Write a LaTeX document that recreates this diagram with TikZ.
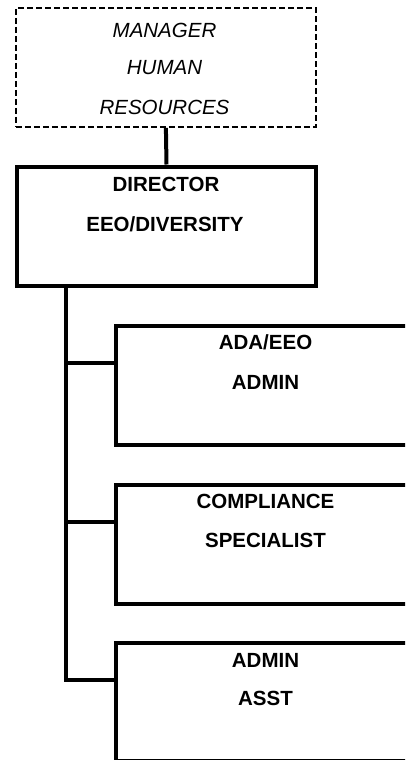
\documentclass[tikz,border=0pt]{standalone}
\usepackage{fontspec}
\setmainfont{Liberation Sans}
\usetikzlibrary{calc}
\begin{document}
\begin{tikzpicture}[x=1pt,y=-1pt,
  solidbox/.style={draw,line width=4pt,rectangle,inner sep=0pt,anchor=north west},
  dashbox/.style={draw,line width=1.8pt,rectangle,inner sep=0pt,anchor=north west,dash pattern=on 6pt off 3pt},
  conn/.style={line width=4pt},
  title/.style={font=\fontsize{20.5}{24}\selectfont\bfseries,inner sep=0pt,anchor=center},
  ititle/.style={font=\fontsize{20.5}{24}\selectfont\itshape,inner sep=0pt,anchor=center}]
\useasboundingbox (0,0) rectangle (405,760);
\clip (0,0) rectangle (405,760);

% top: dashed manager box
\node[dashbox,minimum width=300pt,minimum height=119pt] (mgr) at (15,7) {};
\node[ititle] (mgrA) at (164.5,30) {MANAGER};
\node[ititle] (mgrB) at (164.5,68) {HUMAN};
\node[ititle] (mgrC) at (164.5,107) {RESOURCES};

% director
\node[solidbox,minimum width=299pt,minimum height=119.5pt] (dir) at (15,164.5) {};
\node[title] (dirA) at (166,184) {DIRECTOR};
\node[title] (dirB) at (165,224) {EEO/DIVERSITY};

% reports (boxes run past the right edge)
\node[solidbox,minimum width=303pt,minimum height=119pt] (ada) at (114,324) {};
\node[title] (adaA) at (265.5,342) {ADA/EEO};
\node[title] (adaB) at (265.5,382) {ADMIN};

\node[solidbox,minimum width=303pt,minimum height=118.5pt] (comp) at (114,483) {};
\node[title] (compA) at (265.5,501) {COMPLIANCE};
\node[title] (compB) at (265.5,540) {SPECIALIST};

\node[solidbox,minimum width=303pt,minimum height=117.5pt] (asst) at (114,641) {};
\node[title] (asstA) at (265.5,660) {ADMIN};
\node[title] (asstB) at (265.5,698) {ASST};

% connectors
\draw[conn] (mgr.south) -- (dir.north);
\coordinate (ttop) at ($(dir.south west)+(50.5,0)$);
\coordinate (b1) at ($(ada.north west)+(0,39)$);
\coordinate (b2) at ($(comp.north west)+(0,39)$);
\coordinate (b3) at ($(asst.north west)+(0,39)$);
\draw[conn] (ttop) |- (b3);
\draw[conn] (ttop |- b1) -- (b1);
\draw[conn] (ttop |- b2) -- (b2);
\end{tikzpicture}
\end{document}
